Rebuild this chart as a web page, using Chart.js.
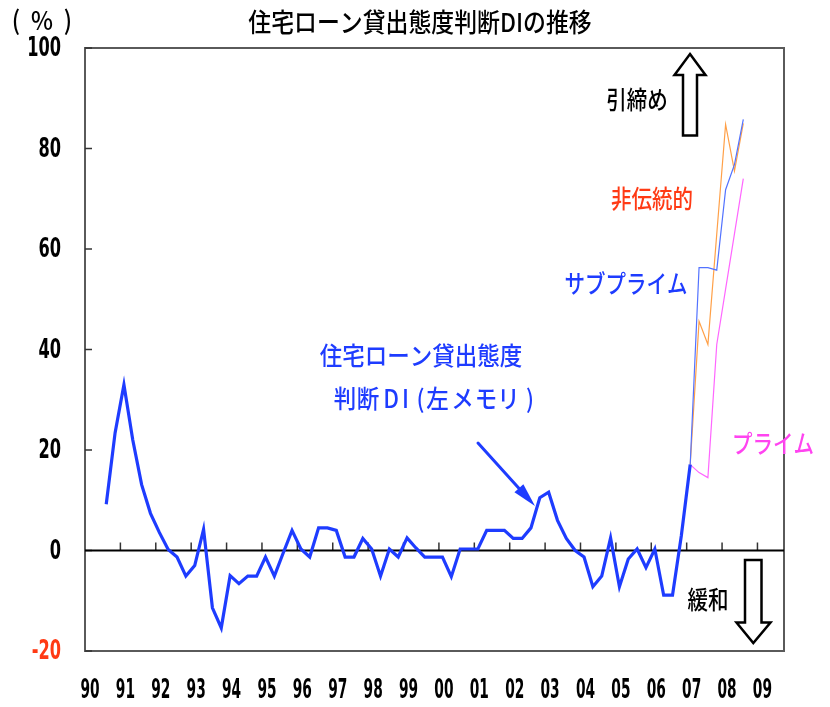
<!DOCTYPE html>
<html>
<head>
<meta charset="utf-8">
<script src="https://cdn.jsdelivr.net/npm/chart.js@4.4.0/dist/chart.umd.min.js"></script>
<style>
  html, body { margin: 0; background: #fff; }
  #wrap { width: 830px; height: 707px; }
</style>
</head>
<body>
<div id="wrap"><canvas id="di" width="830" height="707"></canvas></div>
<script>
// 住宅ローン貸出態度判断DI（四半期、1990年7-9月期から）
const diValues = [
  9.2, 23.4, 33.0, 22.0, 13.1, 7.4, 3.6, 0.2, -1.3, -5.1,
  -3.0, 4.2, -11.4, -15.4, -5.0, -6.6, -5.1, -5.1, -1.3, -5.1,
  -0.5, 4.0, 0.3, -1.3, 4.5, 4.5, 4.0, -1.3, -1.3, 2.4,
  0.3, -5.1, 0.3, -1.3, 2.5, 0.5, -1.3, -1.3, -1.3, -5.2,
  0.3, 0.3, 0.3, 4.0, 4.0, 4.0, 2.4, 2.4, 4.5, 10.5,
  11.6, 6.0, 2.4, 0.0, -1.3, -7.2, -5.1, 2.5, -7.2, -1.7,
  0.3, -3.4, 0.3, -8.9, -8.9, 3.0, 17.1
];
const diStart = 1990.6;   // first quarter on the year axis
const quarter = 0.25;
const diTimes = diValues.map((_, i) => diStart + i * quarter);

// 2007年以降の内訳
const recentTimes = [2007.1, 2007.35, 2007.6, 2007.85, 2008.1, 2008.35, 2008.6];
const subprime    = [17.1, 56.3, 56.3, 55.8, 71.8, 76.8, 85.8];
const nontrad     = [17.1, 45.6, 41.0, 63.0, 84.8, 75.5, 85.0];
const prime       = [17.1, 15.5, 14.5, 41.0, 52.0, 63.0, 74.0];

// axes
const yearTicks  = [1990, 1991, 1992, 1993, 1994, 1995, 1996, 1997, 1998, 1999,
                    2000, 2001, 2002, 2003, 2004, 2005, 2006, 2007, 2008, 2009];
const yearLabels = ['90', '91', '92', '93', '94', '95', '96', '97', '98', '99',
                    '00', '01', '02', '03', '04', '05', '06', '07', '08', '09'];
const yTickValues = [-20, 0, 20, 40, 60, 80, 100];

const BLUE = '#1e3cff';
const RED = '#ff3a14';
const PINK = '#ff44f0';
const JP = '"Noto Sans CJK JP", sans-serif';
const NUM = '"DejaVu Sans", sans-serif';

const pts = (xs, ys) => xs.map((x, i) => ({ x: x, y: ys[i] }));

function line(ctx, x1, y1, x2, y2) {
  ctx.beginPath();
  ctx.moveTo(x1, y1);
  ctx.lineTo(x2, y2);
  ctx.stroke();
}

// horizontally squeezed text anchored at (ax, cy)
function text(ctx, str, ax, cy, font, color, sx, align) {
  ctx.save();
  ctx.translate(ax, cy);
  ctx.scale(sx, 1);
  ctx.font = font;
  ctx.fillStyle = color;
  ctx.textAlign = align || 'center';
  ctx.textBaseline = 'middle';
  ctx.fillText(str, 0, 0);
  ctx.restore();
}
const jp = size => '500 ' + size + 'px ' + JP;
const num = 'bold 27px ' + NUM;

function pointer(ctx, x1, y1, x2, y2, color) {
  const a = Math.atan2(y2 - y1, x2 - x1);
  const head = 24, half = 6;
  const bx = x2 - head * Math.cos(a), by = y2 - head * Math.sin(a);
  ctx.save();
  ctx.strokeStyle = color;
  ctx.fillStyle = color;
  ctx.lineWidth = 3;
  ctx.lineCap = 'round';
  line(ctx, x1, y1, bx + 4 * Math.cos(a), by + 4 * Math.sin(a));
  ctx.beginPath();
  ctx.moveTo(x2, y2);
  ctx.lineTo(bx + half * Math.sin(a), by - half * Math.cos(a));
  ctx.lineTo(bx - half * Math.sin(a), by + half * Math.cos(a));
  ctx.closePath();
  ctx.fill();
  ctx.restore();
}

function hollow(ctx, poly) {
  ctx.save();
  ctx.beginPath();
  poly.forEach((p, i) => i ? ctx.lineTo(p[0], p[1]) : ctx.moveTo(p[0], p[1]));
  ctx.closePath();
  ctx.fillStyle = '#fff';
  ctx.fill();
  ctx.strokeStyle = '#000';
  ctx.lineWidth = 2.5;
  ctx.lineJoin = 'miter';
  ctx.stroke();
  ctx.restore();
}

const decor = {
  id: 'decor',
  beforeDraw(chart) {
    const ctx = chart.ctx;
    ctx.save();
    ctx.fillStyle = '#fff';
    ctx.fillRect(0, 0, chart.width, chart.height);
    ctx.restore();
  },
  beforeDatasetsDraw(chart) {
    const { ctx, chartArea: a, scales: { x, y } } = chart;
    ctx.save();
    ctx.strokeStyle = '#5a5a5a';
    ctx.lineWidth = 2;
    ctx.strokeRect(a.left, a.top, a.right - a.left, a.bottom - a.top);

    ctx.strokeStyle = '#333';
    ctx.lineWidth = 1.5;
    y.ticks.forEach(t => {
      const py = y.getPixelForValue(t.value);
      line(ctx, a.left, py, a.left + 7, py);
    });

    const y0 = y.getPixelForValue(0);
    x.ticks.forEach(t => {
      if (t.value <= x.min) return;
      const px = x.getPixelForValue(t.value);
      line(ctx, px, y0, px, y0 - 8);
    });

    ctx.strokeStyle = '#000';
    ctx.lineWidth = 2;
    line(ctx, a.left, y0, a.right, y0);
    ctx.restore();

    // narrow tick labels, placed from the scales' own ticks
    y.ticks.forEach(t => {
      const py = y.getPixelForValue(t.value);
      text(ctx, String(t.value), 61, py + 1, num, t.value < 0 ? RED : '#000', 0.6, 'right');
    });
    x.ticks.forEach((t, i) => {
      const px = x.getPixelForValue(t.value);
      text(ctx, yearLabels[i], px + 5, 691, num, '#000', 0.51, 'center');
    });
  },
  afterDraw(chart) {
    const ctx = chart.ctx;
    text(ctx, '住宅ローン貸出態度判断DIの推移', 420, 22, jp(26), '#000', 0.88);
    text(ctx, '(', 16, 20, jp(26), '#000', 0.9);
    text(ctx, '%', 42, 20, jp(26), '#000', 0.9);
    text(ctx, ')', 68, 20, jp(26), '#000', 0.9);

    text(ctx, '引締め', 637, 99, jp(25), '#000', 0.82);
    text(ctx, '非伝統的', 652, 198, jp(25), RED, 0.82);
    text(ctx, 'サブプライム', 626, 283, jp(25), BLUE, 0.82);
    text(ctx, 'プライム', 773, 443, jp(25), PINK, 0.82);
    text(ctx, '緩和', 708, 599, jp(25), '#000', 0.82);

    text(ctx, '住宅ローン貸出態度', 421, 355, jp(25), BLUE, 0.9);
    const chars = ['判', '断', 'D', 'I', '(', '左', 'メ', 'モ', 'リ', ')'];
    const cxs = [345, 368, 391, 405.5, 420.5, 437.5, 462.5, 486, 508.5, 530];
    chars.forEach((c, i) => text(ctx, c, cxs[i], 398, jp(25), BLUE, 0.9));

    pointer(ctx, 478, 443, 535, 506, BLUE);

    hollow(ctx, [[690, 54], [705.5, 75], [697, 75], [697, 135.5],
                 [683, 135.5], [683, 75], [674.5, 75]]);
    hollow(ctx, [[745, 560], [761.5, 560], [761.5, 622.5], [770.5, 622.5],
                 [753.3, 643], [736.5, 622.5], [745, 622.5]]);
  }
};

new Chart(document.getElementById('di'), {
  type: 'line',
  data: {
    datasets: [
      { label: '住宅ローン貸出態度判断DI', data: pts(diTimes, diValues),
        borderColor: BLUE, borderWidth: 3.2 },
      { label: 'サブプライム', data: pts(recentTimes, subprime),
        borderColor: '#5272ff', borderWidth: 1.2 },
      { label: '非伝統的', data: pts(recentTimes, nontrad),
        borderColor: '#ffa048', borderWidth: 1.2 },
      { label: 'プライム', data: pts(recentTimes, prime),
        borderColor: '#ff66ff', borderWidth: 1.2 }
    ]
  },
  options: {
    responsive: false,
    animation: false,
    layout: { padding: { top: 48, right: 46, left: 0, bottom: 0 } },
    elements: { point: { radius: 0 }, line: { tension: 0, borderJoinStyle: 'miter' } },
    plugins: { legend: { display: false }, tooltip: { enabled: false } },
    scales: {
      x: {
        type: 'linear', min: 1990, max: 2009.75,
        afterBuildTicks: s => { s.ticks = yearTicks.map(v => ({ value: v })); },
        afterFit: s => { s.height = 56; },
        grid: { display: false, drawTicks: false },
        border: { display: false },
        ticks: { display: false }
      },
      y: {
        min: -20, max: 100,
        afterBuildTicks: s => { s.ticks = yTickValues.map(v => ({ value: v })); },
        afterFit: s => { s.width = 85; },
        grid: { display: false, drawTicks: false },
        border: { display: false },
        ticks: { display: false }
      }
    }
  },
  plugins: [decor]
});
</script>
</body>
</html>
